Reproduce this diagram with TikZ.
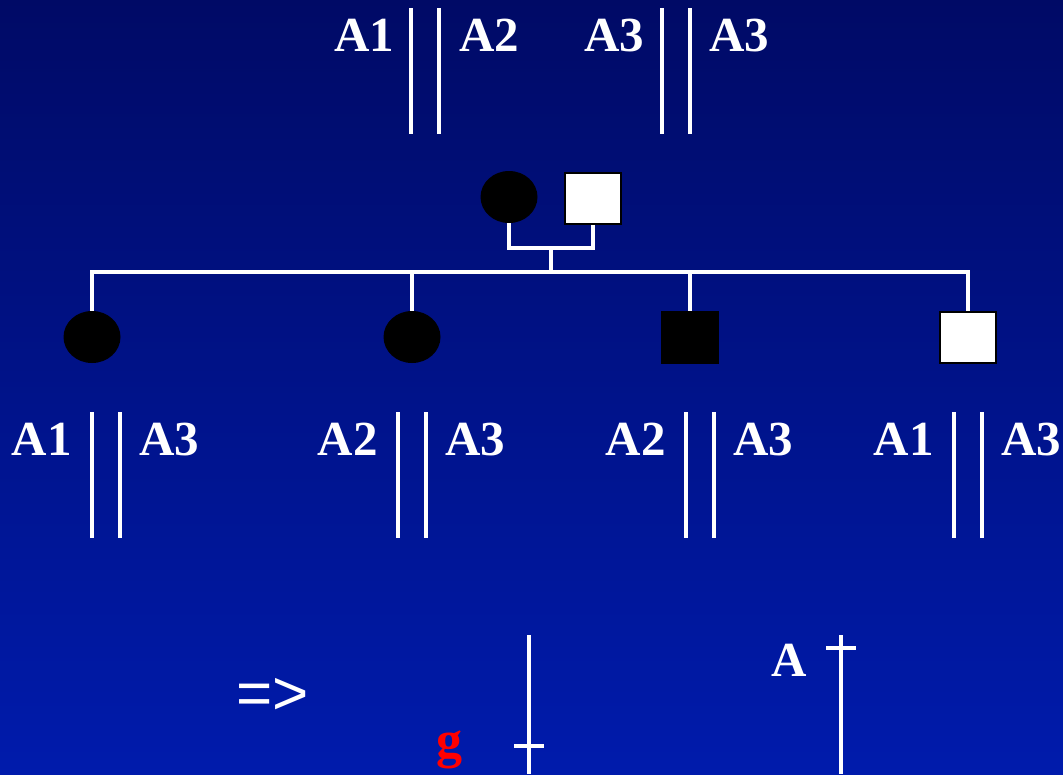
\documentclass[tikz,border=0pt]{standalone}
\usepackage{fontspec}
\setmainfont{Liberation Serif}
\newfontfamily\arialf{Liberation Sans}
\definecolor{bgtop}{RGB}{0,10,102}
\definecolor{bgbot}{RGB}{0,27,172}
\definecolor{gred}{RGB}{255,0,0}
\tikzset{
  chrom/.style={white, line width=3.5pt},
  ped/.style={white, line width=3.5pt},
  lbl/.style={text=white, font=\fontsize{49}{49}\selectfont\bfseries, inner sep=0pt, anchor=base west},
  femaleaff/.style={ellipse, fill=black, minimum width=57pt, minimum height=52pt, inner sep=0pt},
  malebox/.style={rectangle, draw=black, line width=2pt, minimum width=56pt, minimum height=51pt, inner sep=0pt},
}
\usetikzlibrary{shapes.geometric}
\begin{document}
\begin{tikzpicture}[x=1pt,y=-1pt]
\shade[top color=bgtop, bottom color=bgbot] (0,0) rectangle (1063,774);
\useasboundingbox (0,0) rectangle (1063,774);

% top chromosomes
\node[lbl] (t1) at (334,51) {A1};
\node[lbl] (t2) at (459,51) {A2};
\node[lbl] (t3) at (584,51) {A3};
\node[lbl] (t4) at (709,51) {A3};
\coordinate (c1a) at (411,8); \coordinate (c1b) at (411,134);
\coordinate (c2a) at (439,8); \coordinate (c2b) at (439,134);
\coordinate (c3a) at (662,8); \coordinate (c3b) at (662,134);
\coordinate (c4a) at (690,8); \coordinate (c4b) at (690,134);
\draw[chrom] (c1a) -- (c1b);
\draw[chrom] (c2a) -- (c2b);
\draw[chrom] (c3a) -- (c3b);
\draw[chrom] (c4a) -- (c4b);

% parents
\node[femaleaff] (mom) at (509,197) {};
\node[malebox, fill=white] (dad) at (593,198) {};
\coordinate (mid) at (551,248);
\coordinate (sib) at (551,272);
\draw[ped] (mom.south) |- (mid) -| (dad.south);
\draw[ped] (mid) -- (sib);

% children
\node[femaleaff] (k1) at (92,337) {};
\node[femaleaff] (k2) at (412,337) {};
\node[malebox, fill=black] (k3) at (690,337) {};
\node[malebox, fill=white] (k4) at (968,337) {};
\coordinate (sl) at (92,272);
\coordinate (sr) at (968,272);
\draw[ped, line cap=rect] (sl) -- (sr);
\draw[ped] (sl) -- (k1.north);
\draw[ped] (k2.north |- sl) -- (k2.north);
\draw[ped] (k3.north |- sl) -- (k3.north);
\draw[ped] (sr) -- (k4.north);

% children chromosomes
\foreach \x/\l/\r [count=\i] in {92/A1/A3, 398/A2/A3, 686/A2/A3, 954/A1/A3}{
  \node[lbl, anchor=base east] (bl\i) at (\x-20,455) {\l};
  \node[lbl] (br\i) at (\x+47,455) {\r};
  \coordinate (bla\i) at (\x,412); \coordinate (blb\i) at (\x,538);
  \coordinate (bra\i) at (\x+28,412); \coordinate (brb\i) at (\x+28,538);
  \draw[chrom] (bla\i) -- (blb\i);
  \draw[chrom] (bra\i) -- (brb\i);
}

% bottom
\node[text=white, font=\arialf\fontsize{62}{62}\selectfont, inner sep=0pt, anchor=base west] (arr) at (236,714) {=>};
\node[text=gred, font=\fontsize{52}{52}\selectfont\bfseries, inner sep=0pt, anchor=base west] (g) at (436,757) {g};
\coordinate (gl1) at (529,635); \coordinate (gl2) at (529,774);
\coordinate (gt1) at (514,746); \coordinate (gt2) at (544,746);
\draw[chrom] (gl1) -- (gl2);
\draw[chrom] (gt1) -- (gt2);
\node[lbl] (A) at (771,676) {A};
\coordinate (al1) at (841,635); \coordinate (al2) at (841,774);
\coordinate (at1) at (826,648); \coordinate (at2) at (856,648);
\draw[chrom] (al1) -- (al2);
\draw[chrom] (at1) -- (at2);
\end{tikzpicture}
\end{document}
